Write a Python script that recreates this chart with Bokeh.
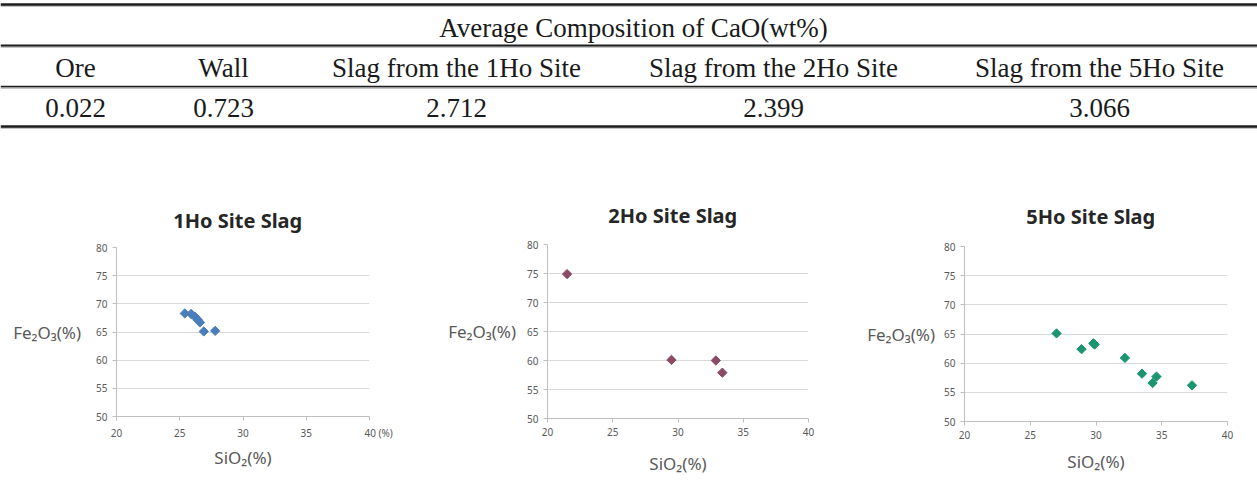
from bokeh.plotting import figure
from bokeh.models import Range1d, FixedTicker, Title, Spacer
from bokeh.layouts import column, row
from bokeh.embed import file_html
from bokeh.resources import INLINE
from bokeh.core.properties import value
import math

# ---------------- data ----------------
table_title = "Average Composition of CaO(wt%)"
table_columns = ["Ore", "Wall", "Slag from the 1Ho Site",
                 "Slag from the 2Ho Site", "Slag from the 5Ho Site"]
cao_values = [0.022, 0.723, 2.712, 2.399, 3.066]

site_titles = ["1Ho Site Slag", "2Ho Site Slag", "5Ho Site Slag"]
site1_sio2 = [25.4, 25.9, 26.2, 26.45, 26.6, 26.9, 27.8]
site1_fe2o3 = [68.3, 68.2, 67.7, 67.1, 66.7, 65.1, 65.2]
site2_sio2 = [21.5, 29.5, 32.9, 33.4]
site2_fe2o3 = [74.9, 60.1, 60.0, 57.9]
site5_sio2 = [27.0, 28.9, 29.8, 29.9, 32.2, 33.5, 34.3, 34.6, 37.3]
site5_fe2o3 = [65.1, 62.4, 63.4, 63.2, 60.9, 58.2, 56.6, 57.7, 56.2]

x_ticks = [20, 25, 30, 35, 40]
y_ticks = [50, 55, 60, 65, 70, 75, 80]
x_label = "SiO\u2082(%)"
y_label = "Fe\u2082O\u2083(%)"

# ---------------- table ----------------
W, H = 1257, 496
TABLE_H = 150
col_centers = [75, 223, 456, 773, 1099]
title_center = 633
rule_y = [4, 45, 86, 126]
rule_w = [2.5, 2.0, 1.5, 2.5]
SERIF = "Liberation Serif"
TXT = dict(text_font=value(SERIF), text_font_size="27px", text_align="center",
           text_baseline="middle", text_color="#1a1a1a")

tf = figure(width=W, height=TABLE_H, x_range=Range1d(0, W), y_range=Range1d(TABLE_H, 0),
            output_backend="svg", toolbar_location=None, min_border=0,
            x_axis_location=None, y_axis_location=None)
tf.grid.visible = False
tf.outline_line_color = None
tf.segment(x0=[0] * 4, y0=[y + 1.5 for y in rule_y], x1=[W] * 4, y1=[y + 1.5 for y in rule_y],
           line_width=1.5, line_color="#b0b0b0")
tf.segment(x0=[0] * 4, y0=rule_y, x1=[W] * 4, y1=rule_y, line_width=rule_w, line_color="#1e1e1e")
tf.text(x=[title_center], y=[27], text=[table_title], **TXT)
tf.text(x=col_centers, y=[67] * 5, text=table_columns, **TXT)
tf.text(x=col_centers, y=[107] * 5, text=["%.3f" % v for v in cao_values], **TXT)

# ---------------- charts ----------------
SANS = "Noto Sans"
GREY = "#595959"
TOP, BOTTOM = 90, 75


def make_chart(xs, ys, title, color, fig_w, left, frame_w, frame_h, spacer_px,
               ylab_standoff, xlab_standoff, pct_40=False):
    p = figure(width=fig_w, height=TOP + frame_h + BOTTOM,
               x_range=Range1d(20, 40), y_range=Range1d(50, 80),
               output_backend="svg", toolbar_location=None, title=None,
               min_border_left=left, min_border_right=fig_w - left - frame_w,
               min_border_top=TOP, min_border_bottom=BOTTOM)
    p.outline_line_color = None
    p.xgrid.visible = False
    p.ygrid.grid_line_color = "#d9d9d9"
    p.ygrid.grid_line_width = 1
    for ax, t in ((p.xaxis, x_ticks), (p.yaxis, y_ticks)):
        ax.ticker = FixedTicker(ticks=t)
        ax.axis_line_color = "#bfbfbf"
        ax.major_tick_line_color = "#bfbfbf"
        ax.major_tick_out = 4
        ax.major_tick_in = 0
        ax.minor_tick_line_color = None
        ax.major_label_text_font = SANS
        ax.major_label_text_font_size = "10px"
        ax.major_label_text_color = GREY
        ax.major_label_standoff = 5
        ax.axis_label_text_font = SANS
        ax.axis_label_text_font_size = "17px"
        ax.axis_label_text_font_style = "normal"
        ax.axis_label_text_color = GREY
    p.xaxis.axis_label = x_label
    p.xaxis.axis_label_standoff = xlab_standoff
    p.yaxis.axis_label = y_label
    p.yaxis.axis_label_orientation = "horizontal"
    p.yaxis.axis_label_standoff = ylab_standoff
    if pct_40:
        p.xaxis.major_label_overrides = {40: "\u00a0" * 7 + "40\u00a0(%)"}
    # spacer title (closest to the frame), then the visible title above it
    p.add_layout(Title(text="\u00a0", text_font_size="%dpx" % spacer_px, standoff=0), "above")
    p.add_layout(Title(text=title + "\u00a0\u00a0", align="center", text_font=SANS,
                       text_font_style="bold", text_font_size="20px",
                       text_color="#262626", standoff=0), "above")
    p.scatter(xs, ys, marker="square", angle=math.pi / 4, size=6.6,
              fill_color=color, line_color=color, line_width=1)
    return p


c1 = make_chart(site1_sio2, site1_fe2o3, site_titles[0], "#4a7ebb",
                440, 116, 253, 169, 11, 12, 3, pct_40=True)
c2 = make_chart(site2_sio2, site2_fe2o3, site_titles[1], "#8b4a66",
                420, 107, 261, 174, 12, 8, 13)
c3 = make_chart(site5_sio2, site5_fe2o3, site_titles[2], "#1b9470",
                397, 104, 263, 175, 13, 6, 8)

chart_row = row(column(Spacer(height=7), c1, spacing=0),
                column(Spacer(height=4), c2, spacing=0),
                column(Spacer(height=6), c3, spacing=0), spacing=0)
layout = column(tf, chart_row, spacing=0)
open("out.html", "w").write(file_html(layout, INLINE))
